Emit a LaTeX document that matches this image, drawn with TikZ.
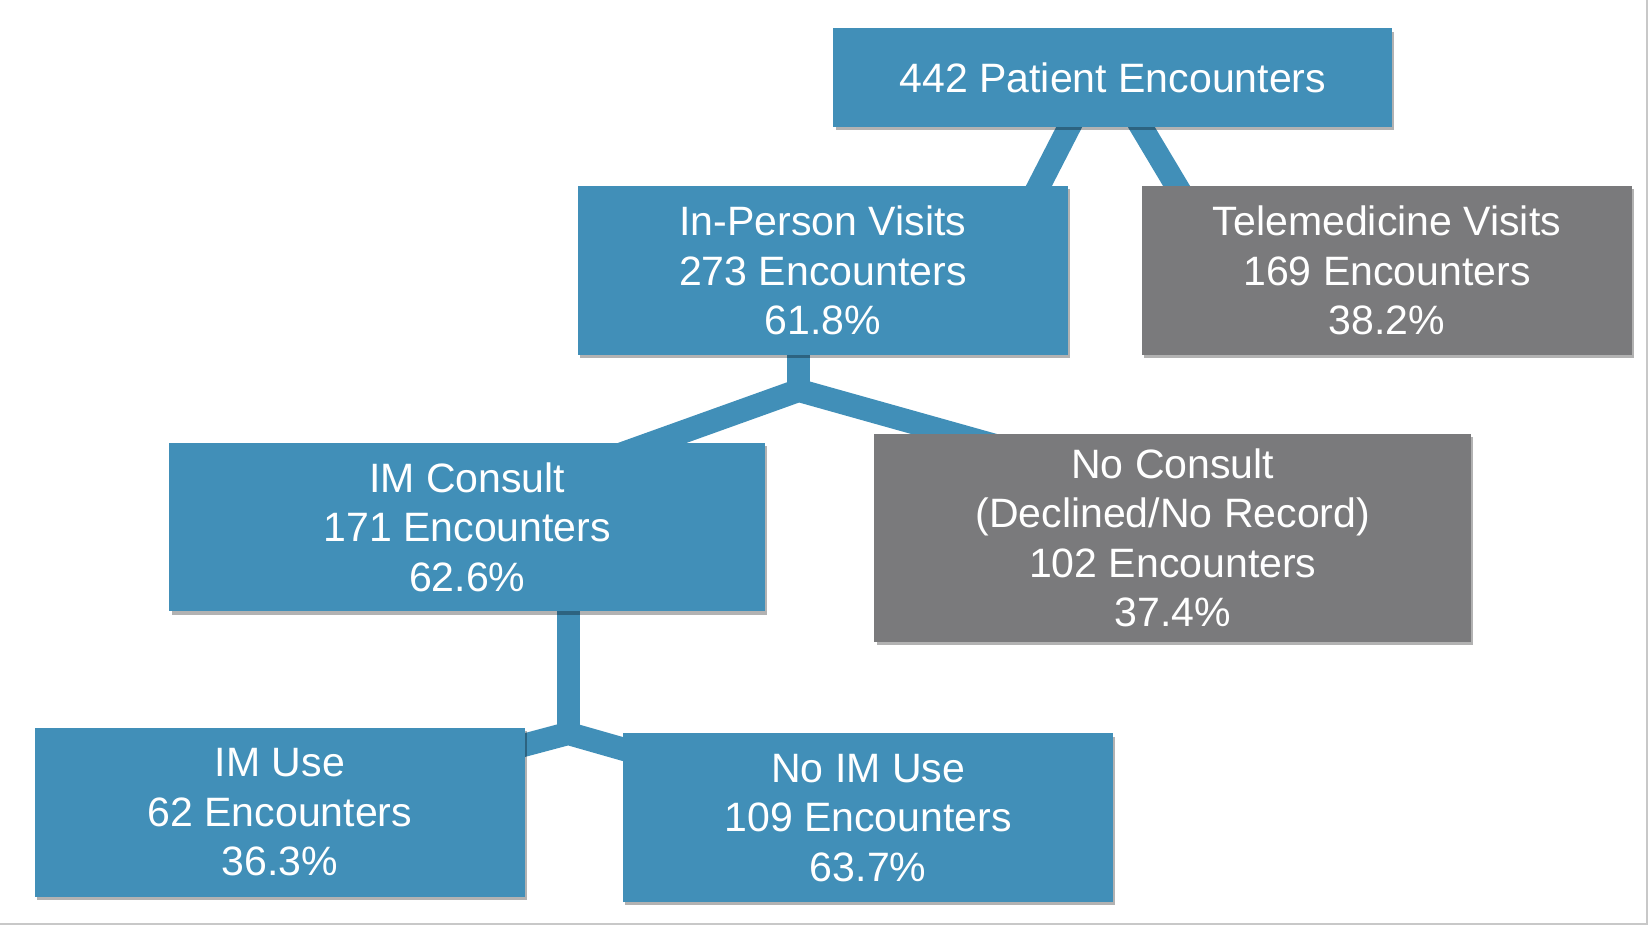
\documentclass[tikz,border=0pt]{standalone}
\usepackage{fontspec}
\setmainfont{Liberation Sans}
\usepackage{tikz}
\usetikzlibrary{shadows}
\usetikzlibrary{backgrounds}
\definecolor{boxblue}{RGB}{65,143,184}
\definecolor{boxgrey}{RGB}{122,122,124}
\definecolor{framegrey}{RGB}{200,200,200}
\newcommand{\boxwidth}{466pt}
\newcommand{\boxheight}{160pt}
\tikzstyle{box}=[fill=boxblue, text=white, align=center, inner sep=0, outer sep=0,
                 minimum width=\boxwidth, minimum height=\boxheight,
                 font=\fontsize{39}{47}\selectfont,
                 % Soft shadow under every box.
                 drop shadow={shadow xshift=2pt, shadow yshift=-3pt, opacity=0.3, fill=black}]
\tikzstyle{gbox}=[box, fill=boxgrey]
\tikzstyle{branch}=[draw=boxblue, line width=22pt, line join=miter]
\tikzstyle{flowchart}=[x=1pt, y=1pt]
\begin{document}
\begin{tikzpicture}[flowchart]
    \useasboundingbox (0,0) rectangle (1568,882);
    \draw[framegrey, line width=2pt] (0,4) -- (1565,4) -- (1565,882);
    \node[box, minimum width=531pt, minimum height=94pt] (total) at (1057.5,808) {442 Patient Encounters};
    \node[box] (inperson) at (782,625) {In-Person Visits\\273 Encounters\\61.8\%};
    \node[gbox] (tele) at (1318,625) {Telemedicine Visits\\169 Encounters\\38.2\%};
    \node[box, minimum width=566pt] (consult) at (444,381) {IM Consult\\171 Encounters\\62.6\%};
    \node[gbox, minimum width=567pt, minimum height=198pt] (noconsult) at (1114.5,371) {No Consult\\(Declined/No Record)\\102 Encounters\\37.4\%};
    \node[box] (imuse) at (266,110) {IM Use\\62 Encounters\\36.3\%};
    \node[box] (noimuse) at (825,105) {No IM Use\\109 Encounters\\63.7\%};
    \coordinate (split1) at (759,511);
    \coordinate (split2) at (540,185);
    \begin{scope}[on background layer]
        \draw[branch] ([xshift=-37.5pt, yshift=8pt]total.south) -- ([xshift=201pt, yshift=-8pt]inperson.north);
        \draw[branch] ([xshift=22.5pt, yshift=8pt]total.south) -- ([xshift=-195pt, yshift=-8pt]tele.north);
        \draw[branch] ([xshift=-23pt, yshift=5pt]inperson.south) -- (split1);
        \draw[branch] ([xshift=131pt, yshift=-16pt]consult.north) -- (split1) -- ([xshift=-154.5pt, yshift=-15.4pt]noconsult.north);
        \draw[branch] ([xshift=96pt, yshift=5pt]consult.south) -- (split2);
        \draw[branch] ([xshift=-19pt, yshift=-21pt]imuse.north east) -- (split2) -- ([xshift=18pt, yshift=-20pt]noimuse.north west);
    \end{scope}
\end{tikzpicture}
\end{document}
